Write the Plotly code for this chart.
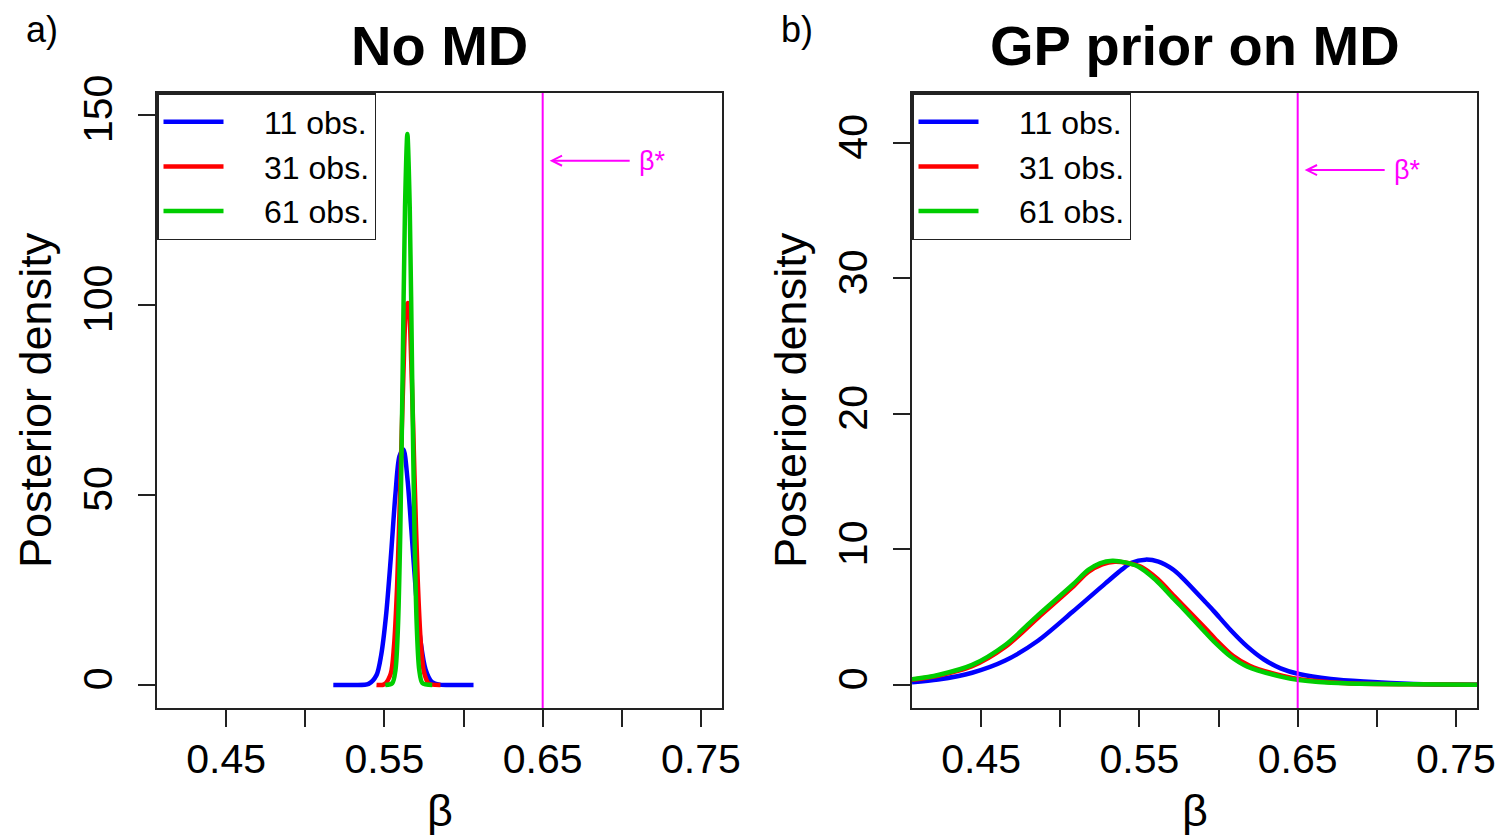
import plotly.graph_objects as go

# page body adds an 8 px margin; the figure fills the rest of the 1503x836 window
OFF = 8
W, H = 1503 - OFF, 836 - OFF

# ---------------- data ----------------
series_names = ["11 obs.", "31 obs.", "61 obs."]
series_colors = ["#0000FF", "#FF0000", "#00CD00"]

# Panel a) "No MD"
a_beta_11 = [0.5177, 0.5300, 0.5400, 0.5450, 0.5480, 0.5510, 0.5540, 0.5570, 0.5595,
             0.5620, 0.5645, 0.5670, 0.5700, 0.5730, 0.5760, 0.5800, 0.5850, 0.5950, 0.6063]
a_dens_11 = [0.0, 0.0, 0.3, 2.6, 8.0, 18.2, 33.3, 50.4, 60.2,
             62.0, 54.5, 41.0, 23.8, 11.0, 4.1, 0.8, 0.1, 0.0, 0.0]

a_beta_31 = [0.5450, 0.5500, 0.5540, 0.5560, 0.5580, 0.5600, 0.5620, 0.5640, 0.5650,
             0.5670, 0.5690, 0.5710, 0.5730, 0.5750, 0.5780, 0.5854]
a_dens_31 = [0.0, 0.2, 3.0, 10.0, 25.9, 52.2, 81.8, 99.9, 100.5,
             84.4, 55.2, 28.1, 11.1, 3.4, 0.4, 0.0]

a_beta_61 = [0.5506, 0.5550, 0.5570, 0.5585, 0.5600, 0.5615, 0.5630, 0.5645,
             0.5660, 0.5675, 0.5690, 0.5705, 0.5720, 0.5740, 0.5802]
a_dens_61 = [0.0, 0.5, 4.0, 14.7, 39.8, 81.7, 125.6, 145.0,
             125.6, 81.7, 39.8, 14.7, 4.0, 0.5, 0.0]

# Panel b) "GP prior on MD"
b_beta_11 = [0.4063, 0.4228, 0.4443, 0.4652, 0.4861, 0.5076, 0.5285, 0.5392, 0.5450,
             0.5538, 0.5620, 0.5709, 0.5759, 0.5918, 0.5970, 0.6076, 0.6182, 0.6287,
             0.6392, 0.6508, 0.6709, 0.6918, 0.7234, 0.7633]
b_dens_11 = [0.20, 0.40, 0.90, 1.80, 3.28, 5.38, 7.50, 8.55, 9.02,
             9.25, 9.10, 8.55, 8.05, 6.10, 5.45, 4.06, 2.83, 1.88,
             1.23, 0.81, 0.44, 0.25, 0.07, 0.02]

b_beta_31 = [0.4063, 0.4228, 0.4443, 0.4652, 0.4861, 0.5076, 0.5177, 0.5265, 0.5345,
             0.5425, 0.5510, 0.5615, 0.5724, 0.5774, 0.5933, 0.5985, 0.6091, 0.6197,
             0.6407, 0.6523, 0.6815, 0.7249, 0.7633]
b_dens_31 = [0.38, 0.68, 1.38, 2.80, 4.98, 7.20, 8.34, 8.90, 9.10,
             9.00, 8.72, 7.82, 6.50, 5.90, 3.98, 3.32, 2.15, 1.42,
             0.66, 0.40, 0.13, 0.05, 0.02]

b_beta_61 = [0.4063, 0.4228, 0.4443, 0.4652, 0.4861, 0.5076, 0.5177, 0.5250, 0.5329,
             0.5410, 0.5494, 0.5600, 0.5709, 0.5759, 0.5918, 0.5970, 0.6076, 0.6182,
             0.6392, 0.6508, 0.6800, 0.7234, 0.7633]
b_dens_61 = [0.42, 0.74, 1.48, 2.95, 5.17, 7.38, 8.49, 8.98, 9.17,
             9.05, 8.73, 7.78, 6.45, 5.85, 3.85, 3.22, 2.10, 1.35,
             0.62, 0.37, 0.12, 0.05, 0.02]

BETA_STAR = 0.65
x_tickvals = [0.45, 0.50, 0.55, 0.60, 0.65, 0.70, 0.75]
x_ticktext = ["0.45", "", "0.55", "", "0.65", "", "0.75"]
a_yticks = [0, 50, 100, 150]
b_yticks = [0, 10, 20, 30, 40]
panel_titles = ["No MD", "GP prior on MD"]
panel_letters = ["a)", "b)"]
x_label = "β"
y_label = "Posterior density"
star_label = "β*"

# ---------------- layout geometry (window pixels) ----------------
FONT = "Liberation Sans, Arial, Helvetica, sans-serif"
box_a = (157, 722)
box_b = (912, 1477)
box_y = (93, 708)

def px2fx(px):
    return (px - OFF) / W

def py2fy(py):
    return 1 - (py - OFF) / H

def dx(px):
    return px / W

xdom_a = [px2fx(box_a[0]), px2fx(box_a[1])]
xdom_b = [px2fx(box_b[0]), px2fx(box_b[1])]
ydom = [py2fy(box_y[1]), py2fy(box_y[0])]

xrange_ = [0.4063, 0.7633]
yrange_a = [-6.05, 155.8]
yrange_b = [-1.70, 43.69]

fig = go.Figure()

LEG_PAD = "\u00a0\u00a0\u00a0\u00a0"
panels = [
    ("x", "y", "legend", [(a_beta_11, a_dens_11), (a_beta_31, a_dens_31), (a_beta_61, a_dens_61)]),
    ("x2", "y2", "legend2", [(b_beta_11, b_dens_11), (b_beta_31, b_dens_31), (b_beta_61, b_dens_61)]),
]
for xa, ya, lg, curves in panels:
    for (bx, by), name, col in zip(curves, series_names, series_colors):
        fig.add_trace(go.Scatter(
            x=bx, y=by, mode="lines", name=LEG_PAD + name, legend=lg,
            line=dict(color=col, width=4.5, shape="spline", smoothing=0.8),
            xaxis=xa, yaxis=ya, showlegend=True,
        ))

axis_common = dict(
    showline=True, linecolor="#222222", linewidth=1.5, mirror=True,
    ticks="outside", ticklen=17, tickwidth=1.5, tickcolor="#222222",
    showgrid=False, zeroline=False, automargin=False,
    tickfont=dict(family=FONT, size=41, color="black"),
)

leg_common = dict(yanchor="top", xanchor="left",
                  bordercolor="#222222", borderwidth=1.5, bgcolor="white",
                  font=dict(family=FONT, size=32, color="black"), itemwidth=60,
                  tracegroupgap=0)

fig.update_layout(
    width=W, height=H,
    margin=dict(l=0, r=0, t=0, b=0, autoexpand=False),
    paper_bgcolor="white", plot_bgcolor="white",
    font=dict(family=FONT, color="black"),
    xaxis=dict(domain=xdom_a, range=xrange_, anchor="y", tickvals=x_tickvals,
               ticktext=x_ticktext, ticklabelstandoff=-3, **axis_common),
    yaxis=dict(domain=ydom, range=yrange_a, anchor="x", tickvals=a_yticks,
               tickangle=-90, ticklabelstandoff=10, **axis_common),
    xaxis2=dict(domain=xdom_b, range=xrange_, anchor="y2", tickvals=x_tickvals,
                ticktext=x_ticktext, ticklabelstandoff=-3, **axis_common),
    yaxis2=dict(domain=ydom, range=yrange_b, anchor="x2", tickvals=b_yticks,
                tickangle=-90, ticklabelstandoff=10, **axis_common),
    legend=dict(x=xdom_a[0], y=ydom[1], **leg_common),
    legend2=dict(x=xdom_b[0], y=ydom[1], **leg_common),
)

# beta* vertical lines and arrows
arrow_y = [138.0, 38.0]
for i, (xa, ya) in enumerate([("x", "y"), ("x2", "y2")]):
    fig.add_shape(type="line", xref=xa, yref=ya + " domain",
                  x0=BETA_STAR, x1=BETA_STAR, y0=0, y1=1,
                  line=dict(color="#FF00FF", width=2))
    fig.add_annotation(xref=xa, yref=ya, x=BETA_STAR + 0.0044, y=arrow_y[i],
                       axref=xa, ayref=ya, ax=BETA_STAR + 0.0695, ay=arrow_y[i],
                       text=star_label, showarrow=True, arrowhead=5, arrowsize=1,
                       arrowwidth=2, arrowcolor="#FF00FF", startstandoff=8,
                       font=dict(family=FONT, size=27, color="#FF00FF"))

# titles, panel letters, axis labels
for i, dom in enumerate([xdom_a, xdom_b]):
    cx = (dom[0] + dom[1]) / 2
    fig.add_annotation(xref="paper", yref="paper", x=cx, y=py2fy(46), text="<b>%s</b>" % panel_titles[i],
                       showarrow=False, xanchor="center", yanchor="middle",
                       font=dict(family=FONT, size=56, color="black"))
    fig.add_annotation(xref="paper", yref="paper", x=dom[0] - dx(157 - 42), y=py2fy(8),
                       text=panel_letters[i], showarrow=False, xanchor="center", yanchor="top",
                       borderpad=0,
                       font=dict(family=FONT, size=36, color="black"))
    fig.add_annotation(xref="paper", yref="paper", x=cx, y=py2fy(810), text=x_label,
                       showarrow=False, xanchor="center", yanchor="middle",
                       font=dict(family=FONT, size=45, color="black"))
    fig.add_annotation(xref="paper", yref="paper", x=dom[0] - dx(157 - 35), y=py2fy(400),
                       text=y_label, showarrow=False, textangle=-90, xanchor="center", yanchor="middle",
                       font=dict(family=FONT, size=45, color="black"))

fig.write_html("out.html")
